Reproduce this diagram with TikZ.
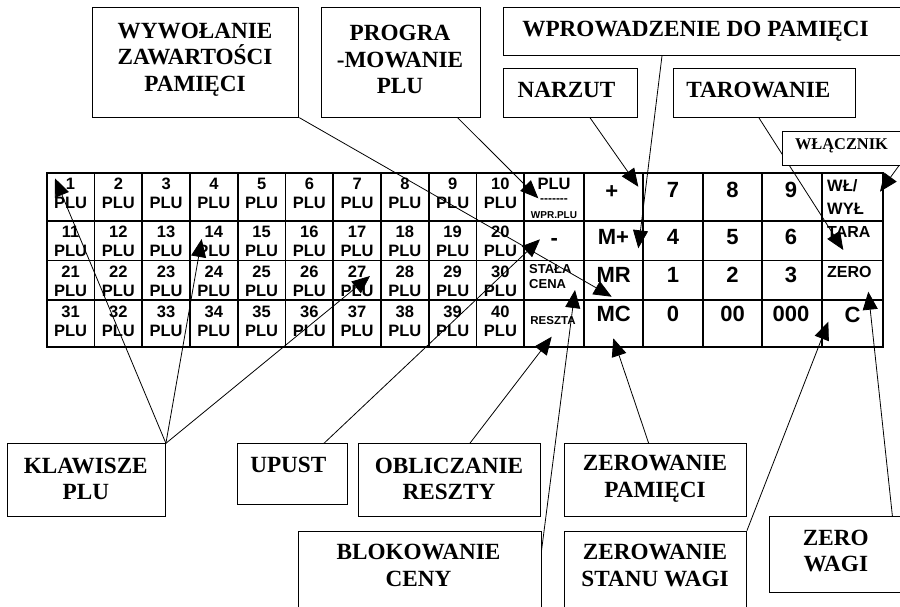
\documentclass[tikz,border=0pt]{standalone}
\usepackage{fontspec}
\newfontfamily\cfont{Liberation Serif Bold}
\newfontfamily\kfont{Liberation Sans Bold}
\usetikzlibrary{arrows.meta,calc}
\pgfdeclarelayer{bg}
\pgfsetlayers{bg,main}
\begin{document}
\begin{tikzpicture}[x=1pt,y=-1pt,
  box/.style={draw, line width=0.9pt, fill=white, inner sep=0pt, anchor=north west},
  ctext/.style={font=\cfont\fontsize{23.2}{26.7}\selectfont, align=center, inner sep=0pt},
  keyt/.style={font=\kfont\fontsize{16.5}{19}\selectfont, align=center, inner sep=0pt},
  bigkey/.style={font=\kfont\fontsize{22}{24}\selectfont, inner sep=0pt},
  midkey/.style={font=\kfont\fontsize{16.5}{23}\selectfont, align=left, inner sep=0pt, anchor=west},
  arr/.style={line width=0.8pt, -{Triangle[length=18pt,width=15pt]}},
  grid/.style={line width=1.8pt}]
\useasboundingbox (0,0) rectangle (900,606);
\clip (0,0) rectangle (900,606);

% ---------- callout boxes ----------
\node[box, minimum width=206.6pt, minimum height=109.4pt] (wyw) at (91.7,7.3) {};
\node[ctext] (wywT) at (195,59.5) {WYWOŁANIE\\ZAWARTOŚCI\\PAMIĘCI};
\node[box, minimum width=159.3pt, minimum height=109.4pt] (prog) at (320.7,7.3) {};
\node[ctext] (progT) at (400,59.5) {PROGRA\\-MOWANIE\\PLU};
\node[box, minimum width=416.7pt, minimum height=47.7pt] (wpr) at (503.3,7.3) {};
\node[ctext] (wprT) at (695.5,31.5) {WPROWADZENIE DO PAMIĘCI};
\node[box, minimum width=134pt, minimum height=48.4pt] (narz) at (503.3,68.3) {};
\node[ctext] (narzT) at (566.5,90) {NARZUT};
\node[box, minimum width=181.7pt, minimum height=48.4pt] (tar) at (673.3,68.3) {};
\node[ctext] (tarT) at (758.3,90) {TAROWANIE};
\node[box, minimum width=138.3pt, minimum height=34.5pt] (wl) at (781.7,130.5) {};
\node[ctext, font=\cfont\fontsize{16.4}{19}\selectfont] (wlT) at (841.5,146) {WŁĄCZNIK};

\node[box, minimum width=158.3pt, minimum height=72.7pt] (klaw) at (6.7,443.3) {};
\node[ctext] (klawT) at (85.8,479) {KLAWISZE\\PLU};
\node[box, minimum width=110pt, minimum height=61pt] (upust) at (236.7,443.3) {};
\node[ctext] (upustT) at (288.3,465) {UPUST};
\node[box, minimum width=181.7pt, minimum height=72.7pt] (obl) at (358.3,443.3) {};
\node[ctext] (oblT) at (449,479) {OBLICZANIE\\RESZTY};
\node[box, minimum width=243pt, minimum height=90pt] (blok) at (297.7,530.7) {};
\node[ctext] (blokT) at (418.5,565.3) {BLOKOWANIE\\CENY};
\node[box, minimum width=182pt, minimum height=72.7pt] (zpam) at (564,443.3) {};
\node[ctext] (zpamT) at (655,479) {ZEROWANIE\\PAMIĘCI};
\node[box, minimum width=182pt, minimum height=90pt] (zsw) at (564,530.7) {};
\node[ctext] (zswT) at (655,565.3) {ZEROWANIE\\STANU WAGI};
\node[box, minimum width=150.7pt, minimum height=75.7pt] (zw) at (769.3,516) {};
\node[ctext] (zwT) at (835.8,551) {ZERO\\WAGI};

% ---------- key labels ----------
\foreach \r/\ty in {0/193.5,1/241,2/281,3/321.3}{
  \foreach \c in {0,...,9}{
    \pgfmathtruncatemacro{\n}{\r*10+\c+1}
    \node[keyt] (k\n) at ({46.7+47.76*(\c+0.5)},\ty) {\n\\PLU};
  }
}
\node[keyt] (kplu) at (554,184) {PLU};
\node[keyt, font=\kfont\fontsize{12}{14}\selectfont] (kdash) at (554,201) {-{}-{}-{}-{}-{}-{}-};
\node[keyt, font=\kfont\fontsize{10}{12}\selectfont] (kwpr) at (554,215) {WPR.PLU};
\node[bigkey] (kminus) at (554.2,241.7) {-};
\node[midkey, font=\kfont\fontsize{13}{15}\selectfont] (kstala) at (529,276.5) {STAŁA\\CENA};
\node[keyt, font=\kfont\fontsize{11.5}{13}\selectfont] (kreszta) at (553,321) {RESZTA};

\node[bigkey] (kplus) at (611.7,192) {+};
\node[bigkey] (k7) at (673,190) {7};
\node[bigkey] (k8) at (732.5,190) {8};
\node[bigkey] (k9) at (791,190) {9};
\node[bigkey] (kmplus) at (613.5,236.7) {M+};
\node[bigkey] (kk4) at (673,236.7) {4};
\node[bigkey] (kk5) at (732.5,236.7) {5};
\node[bigkey] (kk6) at (791,236.7) {6};
\node[bigkey] (kmr) at (613.7,275) {MR};
\node[bigkey] (kk1) at (673,275) {1};
\node[bigkey] (kk2) at (732.5,275) {2};
\node[bigkey] (kk3) at (791,275) {3};
\node[bigkey] (kmc) at (613.7,314) {MC};
\node[bigkey] (kk0) at (673,314) {0};
\node[bigkey] (kk00) at (732.5,314) {00};
\node[bigkey] (kk000) at (791,314) {000};
\node[midkey] (kwl) at (827,196.6) {WŁ/\\WYŁ};
\node[midkey, font=\kfont\fontsize{16}{19}\selectfont] (ktara) at (827,231.7) {TARA};
\node[midkey, font=\kfont\fontsize{16}{19}\selectfont] (kzero) at (827,271.7) {ZERO};
\node[bigkey] (kc) at (852.5,315) {C};

% ---------- arrow tips ----------
\coordinate (t1) at (55,178.3);
\coordinate (t14) at (201.7,239);
\coordinate (t27) at (370,276);
\coordinate (tminus) at (540,239.3);
\coordinate (treszta) at (551.7,336.7);
\coordinate (tstala) at (575,290);
\coordinate (tmc) at (613.3,338.3);
\coordinate (tc) at (828.3,321.7);
\coordinate (tzero) at (868.3,291.7);
\coordinate (tmr) at (611.7,296.7);
\coordinate (tplu) at (538.3,198.3);
\coordinate (tplus) at (638.3,186.7);
\coordinate (tmplus) at (638.3,248.3);
\coordinate (ttara) at (843.3,250);
\coordinate (twl) at (880,191.7);

\begin{pgfonlayer}{bg}
% keyboard grid
\draw[grid] (46.7,173.3) rectangle (883.3,346.7);
\foreach \yy in {221,260.5,300}{\draw[grid] (46.7,\yy) -- (883.3,\yy);}
\foreach \c in {1,...,10}{\draw[grid] ({46.7+47.76*\c},173.3) -- ({46.7+47.76*\c},346.7);}
\foreach \xx in {584,643.3,702.7,762.3,821.7}{\draw[grid] (\xx,173.3) -- (\xx,346.7);}
% connectors
\draw[arr] (klaw.north east) -- (t1);
\draw[arr] (klaw.north east) -- (t14);
\draw[arr] (klaw.north east) -- (t27);
\draw[arr] ($(upust.north west)!0.787!(upust.north east)$) -- (tminus);
\draw[arr] ($(obl.north west)!0.611!(obl.north east)$) -- (treszta);
\draw[arr] ($(blok.north east)+(0,19.3)$) -- (tstala);
\draw[arr] ($(zpam.north west)!0.463!(zpam.north east)$) -- (tmc);
\draw[arr] (zsw.north east) -- (tc);
\draw[arr] ($(zw.north west)!0.812!(zw.north east)$) -- (tzero);
\draw[arr] (wyw.south east) -- (tmr);
\draw[arr] ($(prog.south west)!0.854!(prog.south east)$) -- (tplu);
\draw[arr] ($(narz.south west)!0.642!(narz.south east)$) -- (tplus);
\draw[arr] ($(wpr.south west)!0.38!(wpr.south east)$) -- (tmplus);
\draw[arr] ($(tar.south west)!0.468!(tar.south east)$) -- (ttara);
\draw[arr] ($(wl.south west)!0.841!(wl.south east)$) -- (twl);
\end{pgfonlayer}
\end{tikzpicture}
\end{document}
